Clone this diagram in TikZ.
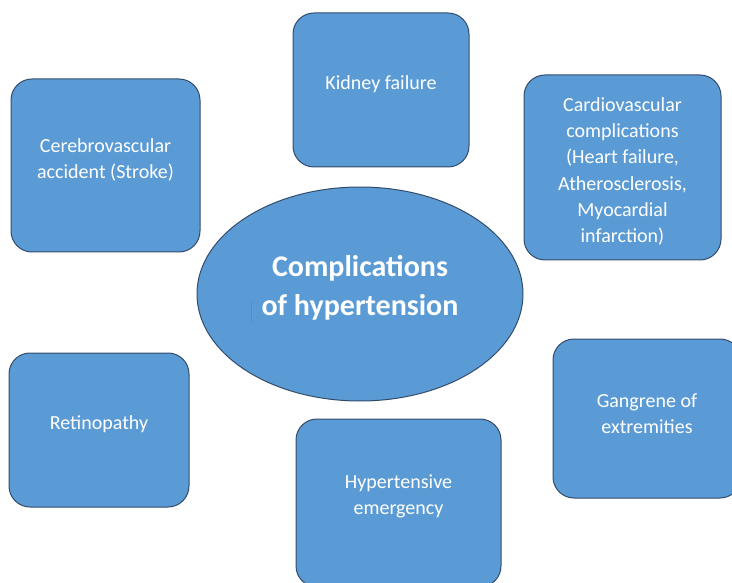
\documentclass[tikz,border=0pt]{standalone}
\usepackage{fontspec}
\setmainfont{Carlito}
\usetikzlibrary{shapes.geometric}
\definecolor{BoxClr}{rgb}{0.357,0.608,0.835}
\definecolor{EdgeClr}{rgb}{0.2,0.3,0.42}
\definecolor{CaretClr}{rgb}{0.55,0.5,0.45}

\begin{document}
\begin{tikzpicture}[x=1pt,y=-1pt,
  compbox/.style={draw=EdgeClr,fill=BoxClr,line width=1pt,rounded corners=21pt,inner sep=0pt},
  comptext/.style={text=white,align=center,font=\fontsize{20}{26.3}\selectfont},
  maintext/.style={text=white,align=center,font=\bfseries\fontsize{30}{39}\selectfont},
  mainellipse/.style={ellipse,draw=EdgeClr,fill=BoxClr,line width=1pt,inner sep=0pt}]
\useasboundingbox (0,0) rectangle (732,583);
\clip (0,0) rectangle (732,583);

% centre
\node[mainellipse,minimum width=326pt,minimum height=214pt,
  label={[maintext,yshift=6.5pt]center:Complications\\of hypertension}] (main) at (360,294) {};

% boxes round the centre
\node[compbox,minimum width=176pt,minimum height=154pt,
  label={[comptext,yshift=6pt]center:Kidney failure}] (kidney) at (381,90) {};
\node[compbox,minimum width=189pt,minimum height=173pt,
  label={[comptext,yshift=5.5pt]center:Cerebrovascular\\accident (Stroke)}] (stroke) at (105.5,165.5) {};
\node[compbox,minimum width=197pt,minimum height=185pt,
  label={[comptext,yshift=-4pt]center:Cardiovascular\\complications\\(Heart failure,\\Atherosclerosis,\\Myocardial\\infarction)}] (cardio) at (622.5,167.5) {};
\node[compbox,minimum width=180pt,minimum height=154pt,
  label={[comptext,yshift=6pt]center:Retinopathy}] (retina) at (99,430) {};
\node[compbox,minimum width=188pt,minimum height=159pt,
  label={[comptext,yshift=4.5pt]center:Gangrene of\\extremities}] (gangrene) at (647,418.5) {};
\node[compbox,minimum width=205pt,minimum height=168pt,
  label={[comptext,yshift=7pt]center:Hypertensive\\emergency}] (emergency) at (398.5,503) {};

% caret mark
\coordinate (caretTop) at (251,301);
\coordinate (caretBot) at (251,323);
\draw[CaretClr,line width=0.8pt] (caretTop) -- (caretBot);

\end{tikzpicture}
\end{document}
